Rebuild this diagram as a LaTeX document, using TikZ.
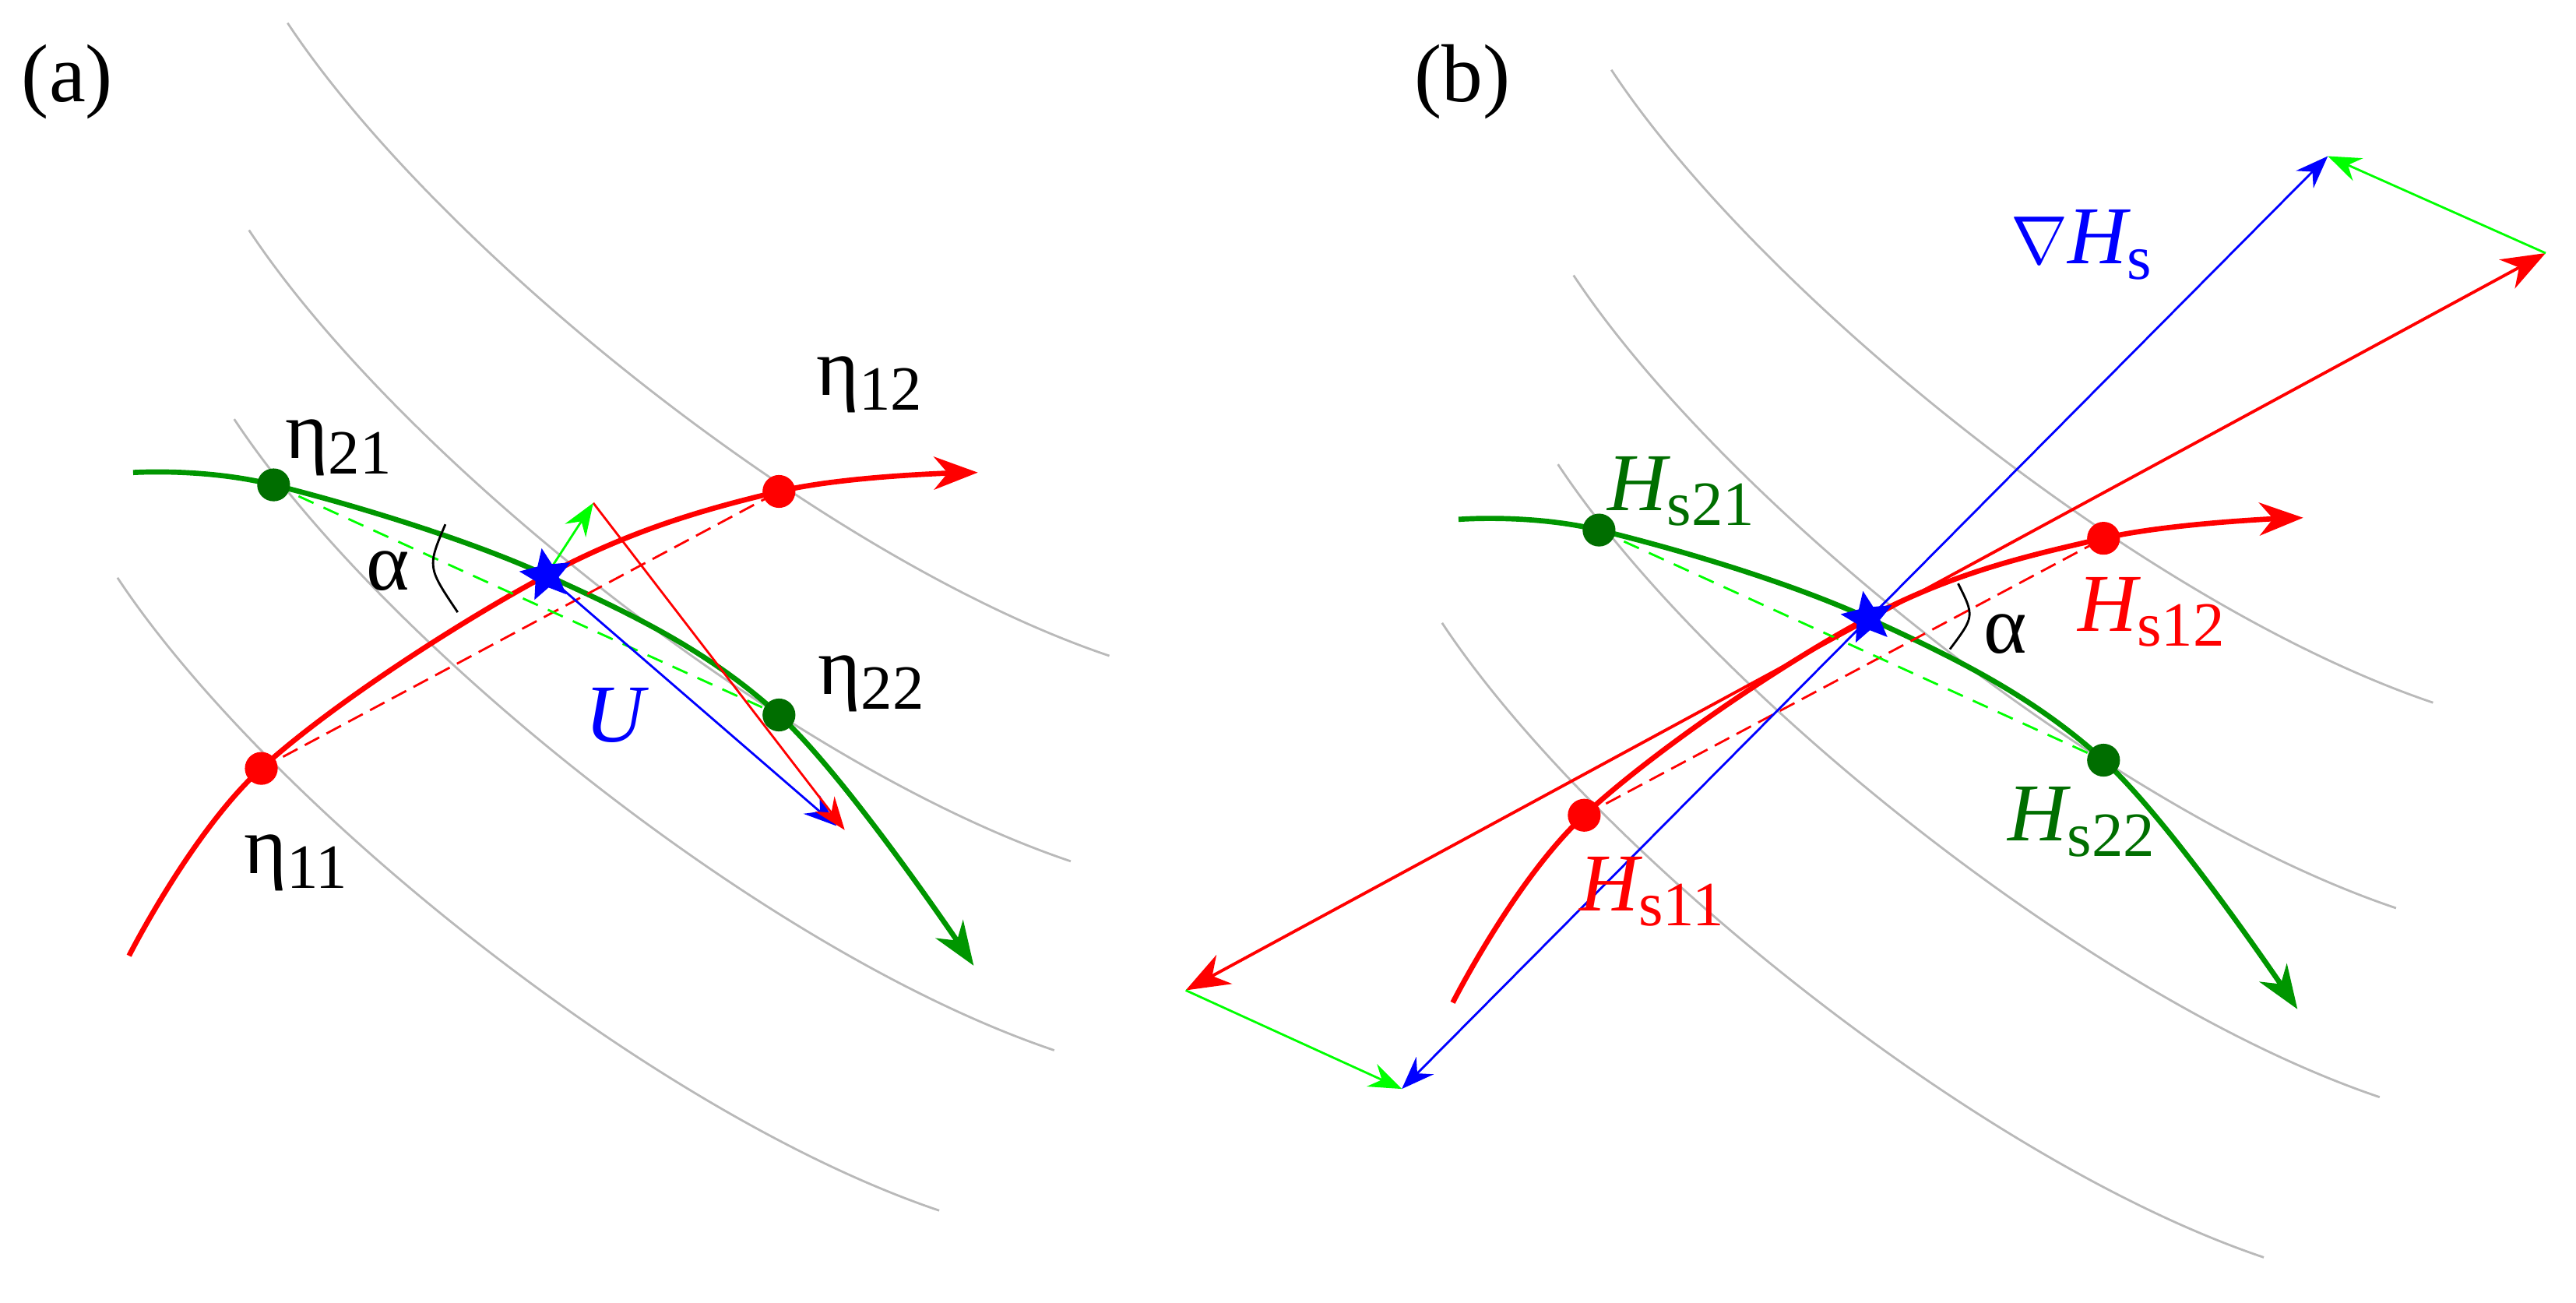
\documentclass[tikz,border=0pt]{standalone}
\usepackage{fontspec}
\setmainfont{Liberation Serif}
\usetikzlibrary{arrows.meta,shapes.geometric}
\definecolor{dg}{RGB}{0,150,0}
\definecolor{dkg}{RGB}{0,110,0}
\definecolor{lg}{RGB}{0,255,0}
\newcommand{\sbs}[1]{\raisebox{-0.4ex}{\fontsize{23}{26}\selectfont\upshape #1}}
\begin{document}
\begin{tikzpicture}[x=0.01055cm,y=-0.01055cm,
  grayc/.style={gray!55,line width=0.8pt},
  bigtip/.style={-{Stealth[inset=5pt,length=16pt,width=12pt]}},
  thintip/.style={-{Stealth[inset=4pt,length=12pt,width=9pt]}},
  fl/.style={line width=1.9pt},
  th/.style={line width=0.8pt},
  dot/.style={circle,inner sep=0pt,minimum size=12pt},
  rdot/.style={dot,fill=red},
  gdot/.style={dot,fill=dkg},
  st/.style={star,star points=5,star point ratio=2.2,fill=blue,inner sep=0pt,minimum size=20pt},
  lab/.style={font=\rmfamily\fontsize{30}{34}\selectfont,inner sep=0pt}]
\useasboundingbox (0,0) rectangle (3135,1585);
% ---------- panel (a)
\node[lab] (pa) at (82,100) {(a)};
\draw[grayc] (350,28) .. controls (530,300) and (1000,680) .. (1350,798);
\draw[grayc] (303,280) .. controls (483,552) and (953,930) .. (1303,1048);
\draw[grayc] (285,510) .. controls (465,782) and (933,1160) .. (1283,1278);
\draw[grayc] (143,703) .. controls (323,975) and (793,1355) .. (1143,1473);
\coordinate (a11) at (318,935);
\coordinate (a12) at (948,598);
\coordinate (a21) at (333,590);
\coordinate (a22) at (948,870);
\coordinate (aS) at (665,700);
\draw[red,fl,bigtip] plot[smooth,tension=0.6] coordinates {(157,1163) (318,935) (665,700) (948,598) (1190,575)};
\draw[dg,fl,bigtip] plot[smooth,tension=0.6] coordinates {(162,575) (333,590) (665,700) (948,870) (1185,1175)};
\draw[red,th,dashed,dash pattern=on 6pt off 3pt] (a11) -- (a12);
\draw[lg,th,dashed,dash pattern=on 6pt off 4pt] (a21) -- (a22);
\coordinate (aG) at (722,612);
\coordinate (aR) at (1028,1010);
\coordinate (aB) at (1018,1005);
\draw[blue,th,thintip] (aS) -- (aB);
\draw[red,th,thintip] (aG) -- (aR);
\draw[lg,th,thintip] (aS) -- (aG);
\node[rdot] (n11) at (a11) {};
\node[rdot] (n12) at (a12) {};
\node[gdot] (n21) at (a21) {};
\node[gdot] (n22) at (a22) {};
\node[st,rotate=10] (sa) at (aS) {};
\draw[black,line width=0.8pt] (542,638) .. controls (520,690) .. (557,745);
\node[lab] (al) at (472,695) {α};
\node[lab,blue] (U) at (748,870) {\itshape U};
\node[lab] (l21) at (412,545) {η\sbs{21}};
\node[lab] (l12) at (1058,468) {η\sbs{12}};
\node[lab] (l22) at (1060,832) {η\sbs{22}};
\node[lab] (l11) at (360,1050) {η\sbs{11}};
% ---------- panel (b)
\begin{scope}[xshift=1568*0.01055cm]
\node[lab] (pb) at (212,100) {(b)};
\draw[grayc] (393,85) .. controls (573,357) and (1043,737) .. (1393,855);
\draw[grayc] (347,335) .. controls (527,607) and (998,987) .. (1348,1105);
\draw[grayc] (328,565) .. controls (508,837) and (978,1217) .. (1328,1335);
\draw[grayc] (187,758) .. controls (367,1030) and (837,1412) .. (1187,1530);
\coordinate (b11) at (360,992);
\coordinate (b12) at (992,655);
\coordinate (b21) at (378,645);
\coordinate (b22) at (992,925);
\coordinate (bS) at (705,752);
\draw[red,fl,bigtip] plot[smooth,tension=0.6] coordinates {(200,1220) (360,992) (705,752) (992,655) (1235,630)};
\draw[dg,fl,bigtip] plot[smooth,tension=0.6] coordinates {(207,632) (378,645) (705,752) (992,925) (1228,1228)};
\draw[red,th,dashed,dash pattern=on 6pt off 3pt] (b11) -- (b12);
\draw[lg,th,dashed,dash pattern=on 6pt off 4pt] (b21) -- (b22);
\coordinate (bRL) at (-125,1205);
\coordinate (bRR) at (1530,308);
\coordinate (bBL) at (138,1325);
\coordinate (bBU) at (1265,190);
\draw[red,line width=1.1pt,{Stealth[inset=5pt,length=16pt,width=12pt]}-{Stealth[inset=5pt,length=16pt,width=12pt]}] (bRL) -- (bRR);
\draw[blue,th,{Stealth[inset=4pt,length=12pt,width=9pt]}-{Stealth[inset=4pt,length=12pt,width=9pt]}] (bBL) -- (bBU);
\draw[lg,th,thintip] (bRR) -- (bBU);
\draw[lg,th,thintip] (bRL) -- (bBL);
\node[rdot] (m11) at (b11) {};
\node[rdot] (m12) at (b12) {};
\node[gdot] (m21) at (b21) {};
\node[gdot] (m22) at (b22) {};
\node[st,rotate=10] (sb) at (bS) {};
\draw[black,line width=0.8pt] (815,710) .. controls (835,750) .. (805,790);
\node[lab] (bal) at (872,772) {α};
\node[lab,blue] (gr) at (965,298) {$\nabla$\itshape H\sbs{s}};
\node[lab,dkg] (h21) at (478,598) {\itshape H\sbs{s21}};
\node[lab,red] (h12) at (1050,745) {\itshape H\sbs{s12}};
\node[lab,red] (h11) at (442,1085) {\itshape H\sbs{s11}};
\node[lab,dkg] (h22) at (965,1000) {\itshape H\sbs{s22}};
\end{scope}
\end{tikzpicture}
\end{document}
